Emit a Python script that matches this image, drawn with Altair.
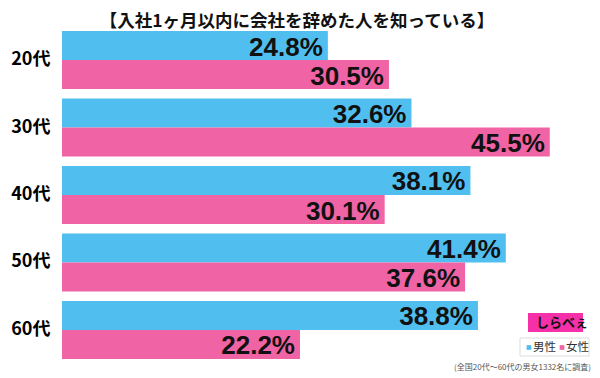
import altair as alt
import pandas as pd

ages = ["20代", "30代", "40代", "50代", "60代"]
male = [24.8, 32.6, 38.1, 41.4, 38.8]
female = [30.5, 45.5, 30.1, 37.6, 22.2]
genders = ["男性", "女性"]
colors = ["#50BFF0", "#F064A5"]

title_text = "【入社1ヶ月以内に会社を辞めた人を知っている】"
note_text = "(全国20代〜60代の男女1332名に調査)"

rows = []
for a, m, f in zip(ages, male, female):
    rows.append({"age": a, "gender": "男性", "value": m, "label": f"{m:.1f}%"})
    rows.append({"age": a, "gender": "女性", "value": f, "label": f"{f:.1f}%"})
df = pd.DataFrame(rows)

JP = "Noto Sans CJK JP"
W, H = 530, 328

y_enc = alt.Y("age:N", sort=ages, title=None,
              scale=alt.Scale(paddingInner=0.14, paddingOuter=0),
              axis=alt.Axis(labelFontSize=18, labelFontWeight="bold", labelColor="#000",
                            labelFont=JP, domain=False, ticks=False, labelPadding=12))
yoff = alt.YOffset("gender:N", sort=genders, scale=alt.Scale(paddingInner=0, paddingOuter=0))
x_enc = alt.X("value:Q", scale=alt.Scale(domain=[0, W / 10.72], nice=False), axis=None)

bars = alt.Chart(df).mark_bar(cornerRadius=0).encode(
    x=x_enc, y=y_enc, yOffset=yoff,
    color=alt.Color("gender:N", sort=genders,
                    scale=alt.Scale(domain=genders, range=colors), legend=None),
)

labels = alt.Chart(df).mark_text(align="right", baseline="middle", dx=-5, dy=2,
                                 fontSize=26, fontWeight="bold", font="Liberation Sans",
                                 color="#111").encode(
    x=x_enc, y=y_enc, yOffset=yoff, text="label:N")

one = pd.DataFrame({"k": [0]})
title = alt.Chart(one).mark_text(text=title_text, fontSize=17.5, fontWeight="bold", font=JP,
                                 align="center", baseline="middle", color="#111").encode(
    x=alt.value(235), y=alt.value(-9))
note = alt.Chart(one).mark_text(text=note_text, fontSize=8, font=JP, align="right",
                                baseline="middle", color="#555").encode(
    x=alt.value(529), y=alt.value(337))
logo_box = alt.Chart(one).mark_rect(color="#F530A8").encode(
    x=alt.value(466), x2=alt.value(521), y=alt.value(282), y2=alt.value(301))
logo_text = alt.Chart(one).mark_text(text="しらべぇ", fontSize=13, fontWeight="bold", font=JP,
                                     align="center", baseline="middle", color="#111").encode(
    x=alt.value(500), y=alt.value(292))

# legend drawn from the gender list and colour list
leg_df = pd.DataFrame({"gender": genders, "color": colors, "sx": [467, 500]})
leg_box = alt.Chart(one).mark_rect(fill="white", stroke="#dddddd", strokeWidth=1).encode(
    x=alt.value(458), x2=alt.value(527), y=alt.value(307), y2=alt.value(325))
leg_sq = alt.Chart(leg_df).mark_square(size=22, opacity=1).encode(
    x=alt.X("sx:Q", scale=None), y=alt.value(316.5),
    color=alt.Color("color:N", scale=None))
leg_txt = alt.Chart(leg_df).mark_text(align="left", baseline="middle", dx=4, fontSize=11.5,
                                      font=JP, color="#333").encode(
    x=alt.X("sx:Q", scale=None), y=alt.value(316.5), text="gender:N")

chart = alt.layer(bars, labels, title, note, logo_box, logo_text,
                  leg_box, leg_sq, leg_txt).properties(
    width=W, height=H,
    autosize=alt.AutoSizeParams(type="none"),
    padding={"left": 54, "top": 23, "right": 0, "bottom": 19},
).configure_view(stroke=None)

chart.save("out.html", embed_options={"renderer": "svg", "actions": False})
